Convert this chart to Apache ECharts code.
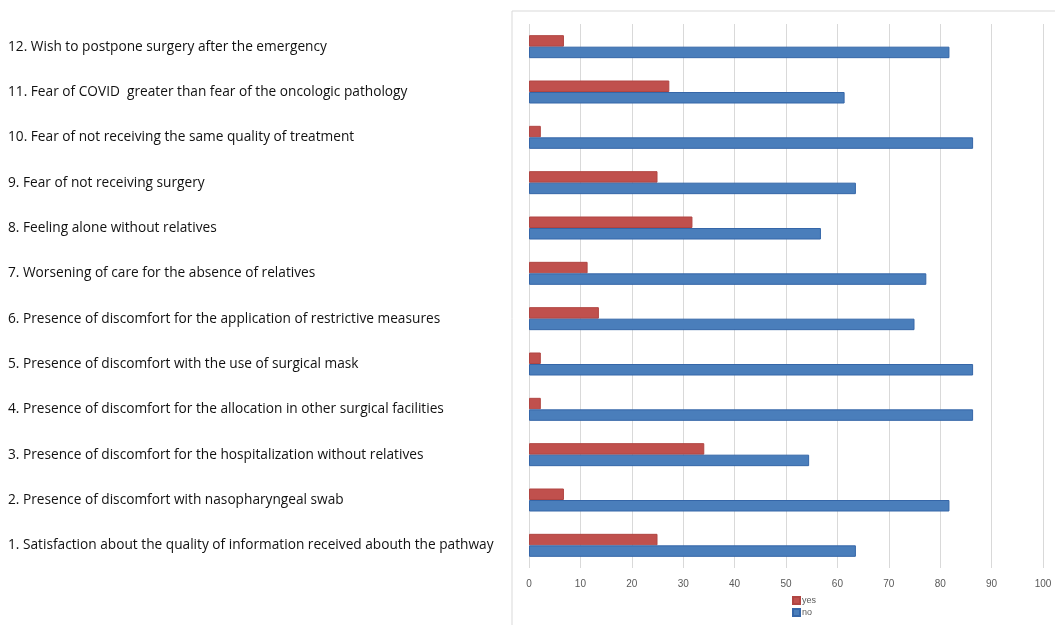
<!DOCTYPE html>
<html><head><meta charset="utf-8">
<script src="https://cdn.jsdelivr.net/npm/echarts@6/dist/echarts.min.js"></script>
<style>html,body{margin:0;padding:0;background:#fff}#c{width:1055px;height:625px}</style>
</head><body><div id="c"></div>
<script>
const categories = [
  "1. Satisfaction about the quality of information received abouth the pathway",
  "2. Presence of discomfort with nasopharyngeal swab",
  "3. Presence of discomfort for the hospitalization without relatives",
  "4. Presence of discomfort for the allocation in other surgical facilities",
  "5. Presence of discomfort with the use of surgical mask",
  "6. Presence of discomfort for the application of restrictive measures",
  "7. Worsening of care for the absence of relatives",
  "8. Feeling alone without relatives",
  "9. Fear of not receiving surgery",
  "10. Fear of not receiving the same quality of treatment",
  "11. Fear of COVID  greater than fear of the oncologic pathology",
  "12. Wish to postpone surgery after the emergency"
];
const yesValues = [25.0, 6.8, 34.1, 2.3, 2.3, 13.6, 11.4, 31.8, 25.0, 2.3, 27.3, 6.8];
const noValues  = [63.6, 81.8, 54.5, 86.4, 86.4, 75.0, 77.3, 56.8, 63.6, 86.4, 61.4, 81.8];
const xTicks = [0,10,20,30,40,50,60,70,80,90,100];

const chart = echarts.init(document.getElementById('c'), null, {renderer:'canvas'});
chart.setOption({
  animation:false,
  backgroundColor:'#fff',
  textStyle:{fontFamily:'Liberation Sans, Arial, sans-serif'},
  graphic:[{type:'rect', shape:{x:512, y:11, width:700, height:800}, style:{fill:'none', stroke:'#d9d9d9', lineWidth:1}, z:-1}],
  grid:{left:529, right:12, top:24, bottom:57, containLabel:false},
  legend:{
    data:['yes','no'], orient:'vertical', left:787, top:591,
    itemWidth:7, itemHeight:7, itemGap:3, icon:'rect',
    textStyle:{fontSize:9, color:'#595959', padding:[0,0,0,-3]}
  },
  xAxis:{
    type:'value', min:0, max:100, interval:10,
    axisLine:{show:false}, axisTick:{show:false},
    axisLabel:{color:'#595959', fontSize:10, margin:11, formatter:v=>xTicks.includes(v)?String(v):''},
    splitLine:{show:true, lineStyle:{color:'#d9d9d9', width:1}}
  },
  yAxis:{
    type:'category', data:categories,
    axisLine:{show:false}, axisTick:{show:false},
    axisLabel:{align:'left', margin:521, color:'#111', fontSize:13.7, fontFamily:'Open Sans, Liberation Sans, sans-serif'}
  },
  series:[
    {name:'yes', type:'bar', data:yesValues, barWidth:11.5, barGap:'0%',
     itemStyle:{color:'#c0504d', borderColor:'#b04542', borderWidth:1}},
    {name:'no', type:'bar', data:noValues, barWidth:11.5, barGap:'0%',
     itemStyle:{color:'#4a7ebb', borderColor:'#3566a8', borderWidth:1}}
  ]
});
</script></body></html>
